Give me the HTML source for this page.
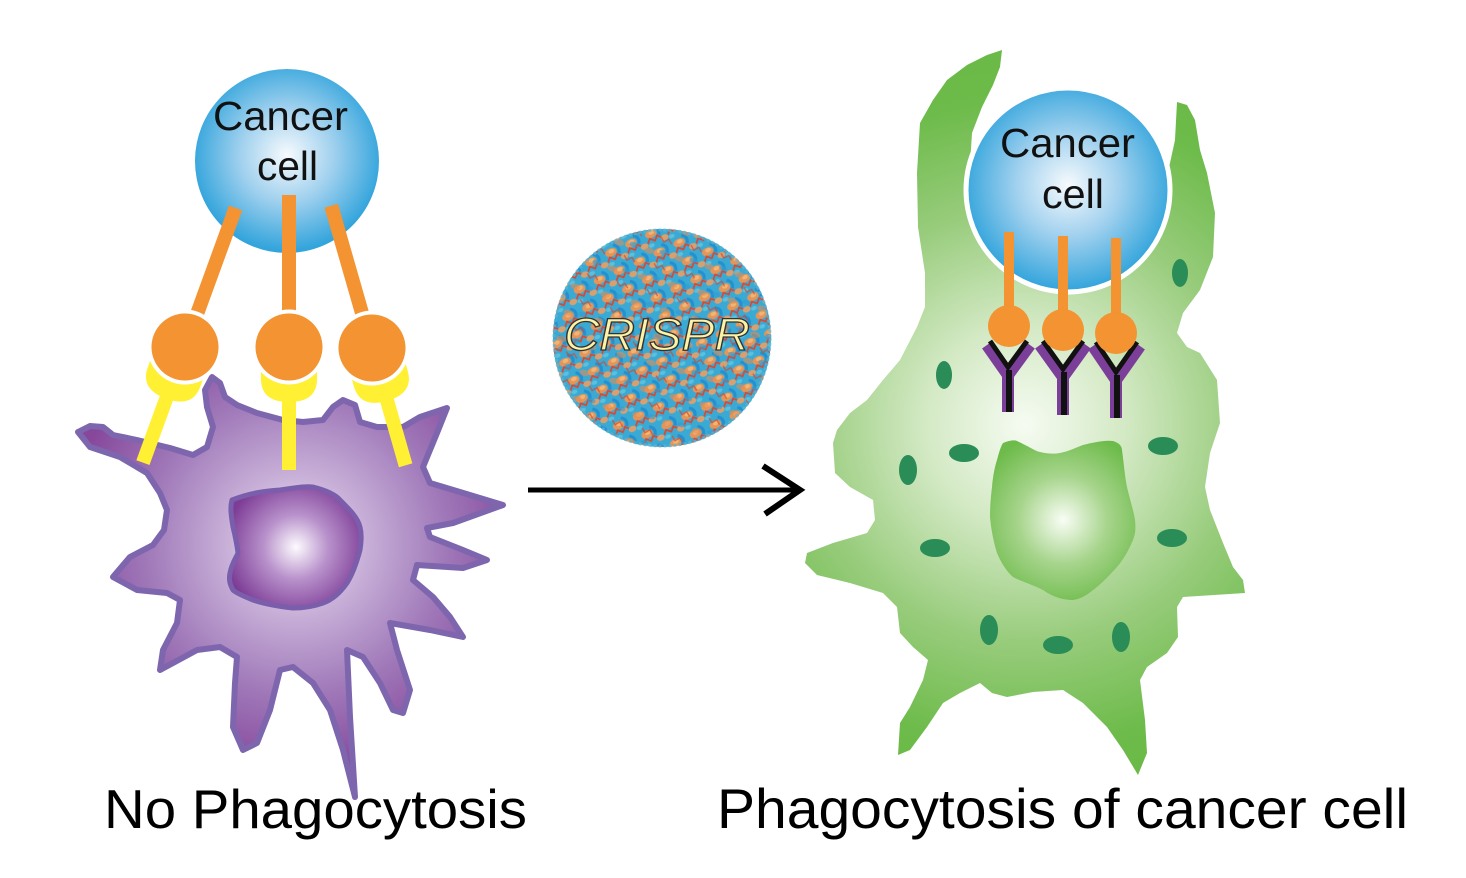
<!DOCTYPE html>
<html>
<head>
<meta charset="utf-8">
<style>
html,body{margin:0;padding:0;background:#fff;}
svg{display:block;}
</style>
</head>
<body>
<svg width="1466" height="878" viewBox="0 0 1466 878" xmlns="http://www.w3.org/2000/svg">
<defs>
  <radialGradient id="cancerL" gradientUnits="userSpaceOnUse" cx="287" cy="155" r="95">
    <stop offset="0" stop-color="#f6fafd"/>
    <stop offset="0.5" stop-color="#9fd0ee"/>
    <stop offset="1" stop-color="#34a5dc"/>
  </radialGradient>
  <radialGradient id="cancerR" gradientUnits="userSpaceOnUse" cx="1068" cy="185" r="105">
    <stop offset="0" stop-color="#f6fafd"/>
    <stop offset="0.5" stop-color="#9fd0ee"/>
    <stop offset="1" stop-color="#34a5dc"/>
  </radialGradient>
  <radialGradient id="purpBody" gradientUnits="userSpaceOnUse" cx="296" cy="545" r="230">
    <stop offset="0" stop-color="#f5f0f8"/>
    <stop offset="0.3" stop-color="#c8b0d8"/>
    <stop offset="0.65" stop-color="#a079b9"/>
    <stop offset="1" stop-color="#87489c"/>
  </radialGradient>
  <radialGradient id="purpNuc" gradientUnits="userSpaceOnUse" cx="296" cy="547" r="72">
    <stop offset="0" stop-color="#fdfbfe"/>
    <stop offset="0.45" stop-color="#b891cb"/>
    <stop offset="1" stop-color="#7d3c96"/>
  </radialGradient>
  <radialGradient id="greenBody" gradientUnits="userSpaceOnUse" cx="1025" cy="425" r="360">
    <stop offset="0" stop-color="#f6fbf2"/>
    <stop offset="0.28" stop-color="#d3e9c4"/>
    <stop offset="0.6" stop-color="#98cc7c"/>
    <stop offset="0.9" stop-color="#6dbb4a"/>
    <stop offset="1" stop-color="#6bba47"/>
  </radialGradient>
  <radialGradient id="greenNuc" gradientUnits="userSpaceOnUse" cx="1063" cy="520" r="90">
    <stop offset="0" stop-color="#f9fdf5"/>
    <stop offset="0.5" stop-color="#a6d48b"/>
    <stop offset="1" stop-color="#6dbb4a"/>
  </radialGradient>
  <pattern id="crispr" patternUnits="userSpaceOnUse" width="22" height="20" patternTransform="rotate(-25)">
    <rect width="22" height="20" fill="#3aaad4"/>
    <ellipse cx="7" cy="7" rx="6" ry="4" fill="#e3955a"/>
    <ellipse cx="8" cy="6" rx="3" ry="2" fill="#f0b574"/>
    <path d="M12,1 q6,4 2,10" fill="none" stroke="#2490cf" stroke-width="3"/>
    <polyline points="0,15 4,11 8,15 12,11 16,15" fill="none" stroke="#e0452a" stroke-width="1.6"/>
    <ellipse cx="18" cy="16" rx="4" ry="3" fill="#d8a070"/>
    <ellipse cx="3" cy="18" rx="3" ry="2" fill="#5cc0dc"/>
  </pattern>
  <pattern id="crispr2" patternUnits="userSpaceOnUse" width="31" height="27" patternTransform="rotate(15)">
    <ellipse cx="10" cy="20" rx="5" ry="3" fill="#e88a4e" opacity="0.55"/>
    <polyline points="18,4 22,8 26,4 30,8" fill="none" stroke="#d9442a" stroke-width="1.4" opacity="0.7"/>
    <ellipse cx="24" cy="18" rx="4" ry="2.5" fill="#2f9bd3" opacity="0.6"/>
  </pattern>
</defs>

<!-- ===== LEFT: purple macrophage ===== -->
<path fill="url(#purpBody)" stroke="#7e66ae" stroke-width="6" stroke-linejoin="round" d="
M78,432 L90,426 L103,427 L113,435 L137,440 L170,448 L193,455 L207,447 L213,427 L207,407 L205,390 L212,377 L220,383 L225,397 L237,405 L257,413 L283,420 L303,422 L323,420 L333,407 L343,400 L355,405 L360,422 L377,427 L403,427 L420,417 L447,408 L437,433 L423,467 L430,483 L460,492 L503,505 L453,523 L427,528 L430,537 L463,550 L487,560 L463,568 L417,565 L413,580 L433,597 L450,617 L463,637 L430,630 L390,623 L397,650 L410,690 L403,713 L393,710 L380,683 L363,657 L347,650 L350,717 L355,797 L343,750 L330,710 L313,683 L293,667 L280,670 L270,710 L257,743 L243,750 L233,727 L235,683 L237,657 L220,647 L197,650 L173,663 L160,670 L163,650 L177,623 L180,600 L167,593 L137,590 L113,577 L130,557 L153,545 L164,530 L167,510 L160,493 L147,473 L120,457 L90,447 Z"/>
<path fill="url(#purpNuc)" stroke="#7a5eab" stroke-width="5" stroke-linejoin="round" d="
M232,500 C250,493 265,491 280,490 C295,488 305,486 313,487 C325,490 335,494 340,500 C350,510 358,518 360,527 C362,535 361,543 360,550 C356,565 352,575 347,583 C340,593 332,600 323,603 C312,607 300,608 293,608 C275,606 262,603 253,600 C243,596 236,593 233,590 C229,583 229,578 230,573 C232,563 236,558 238,553 C237,545 235,535 233,527 C231,515 230,507 232,500 Z"/>

<!-- left cancer cell -->
<circle cx="287" cy="161" r="92" fill="url(#cancerL)"/>
<text x="213" y="130" font-family="Liberation Sans, Arial, sans-serif" font-size="41" fill="#111" textLength="135" lengthAdjust="spacingAndGlyphs">Cancer</text>
<text x="257" y="180" font-family="Liberation Sans, Arial, sans-serif" font-size="41" fill="#111" textLength="61" lengthAdjust="spacingAndGlyphs">cell</text>

<!-- receptor groups -->
<g transform="rotate(20 185 347)">
  <rect x="178" y="199" width="14" height="148" fill="#f39331"/>
  <rect x="178" y="380" width="14" height="90" fill="#fff033"/>
  <path d="M-28,20 L-28,32 Q-28,55 0,55 Q28,55 28,32 L28,20 Z" transform="translate(185 347)" fill="#fff033"/>
  <circle cx="185" cy="347" r="37.5" fill="#fff"/>
  <circle cx="185" cy="347" r="33.5" fill="#f39331"/>
</g>
<g>
  <rect x="282" y="195" width="14" height="152" fill="#f39331"/>
  <rect x="282" y="380" width="14" height="90" fill="#fff033"/>
  <path d="M-28,20 L-28,32 Q-28,55 0,55 Q28,55 28,32 L28,20 Z" transform="translate(289 347)" fill="#fff033"/>
  <circle cx="289" cy="347" r="37.5" fill="#fff"/>
  <circle cx="289" cy="347" r="33.5" fill="#f39331"/>
</g>
<g transform="rotate(-16 372 348)">
  <rect x="365" y="200" width="14" height="148" fill="#f39331"/>
  <rect x="365" y="380" width="14" height="90" fill="#fff033"/>
  <path d="M-28,20 L-28,32 Q-28,55 0,55 Q28,55 28,32 L28,20 Z" transform="translate(372 348)" fill="#fff033"/>
  <circle cx="372" cy="348" r="37.5" fill="#fff"/>
  <circle cx="372" cy="348" r="33.5" fill="#f39331"/>
</g>

<!-- ===== CRISPR particle ===== -->
<circle cx="662" cy="338" r="109" fill="url(#crispr)"/>
<circle cx="662" cy="338" r="109" fill="url(#crispr2)"/>
<circle cx="662" cy="338" r="108" fill="none" stroke="#5fb3cf" stroke-width="3" stroke-dasharray="3 2" opacity="0.7"/>
<text x="564" y="350" font-family="Liberation Sans, Arial, sans-serif" font-size="45" font-style="italic" fill="#fdf3a6" stroke="#333" stroke-width="1.3" textLength="186" lengthAdjust="spacingAndGlyphs">CRISPR</text>

<!-- arrow -->
<line x1="528" y1="490" x2="799" y2="490" stroke="#000" stroke-width="5"/>
<polyline points="763,466 800,490 765,514" fill="none" stroke="#000" stroke-width="6" stroke-linejoin="miter"/>

<!-- ===== RIGHT: green macrophage ===== -->
<path fill="url(#greenBody)" stroke-linejoin="round" d="
M1002,50 L1000,67 L993,85 L982,107 L972,133 L970,165 L1068,190 L1168,172 L1175,140 L1177,102 L1187,105 L1195,120 L1200,150 L1207,173 L1215,213 L1213,257 L1200,290 L1183,313 L1177,333 L1187,347 L1200,353 L1217,380 L1220,423 L1210,453 L1205,487 L1210,510 L1223,543 L1233,567 L1243,580 L1245,593 L1183,597 L1177,607 L1178,637 L1167,653 L1147,667 L1140,680 L1145,720 L1147,753 L1138,775 L1123,750 L1107,727 L1083,703 L1063,690 L1033,692 L1007,697 L992,693 L980,683 L960,693 L943,703 L927,727 L910,750 L898,755 L900,723 L910,707 L923,680 L928,660 L913,647 L900,633 L897,607 L883,593 L850,583 L817,575 L805,563 L807,553 L833,543 L867,533 L875,520 L873,500 L850,487 L835,473 L833,443 L837,430 L850,413 L867,400 L883,380 L900,360 L917,327 L925,307 L925,273 L918,227 L917,173 L920,123 L933,100 L947,80 L967,65 L987,55 Z"/>

<path fill="url(#greenNuc)" d="
M1003,443 C1010,440 1015,440 1017,441 C1028,446 1035,451 1040,452 C1048,454 1055,454 1060,453 C1070,451 1077,447 1083,445 C1095,442 1105,440 1113,441 C1120,443 1122,447 1122,450 C1124,465 1125,477 1127,487 C1130,500 1134,512 1135,520 C1136,530 1135,535 1133,540 C1128,552 1123,560 1117,567 C1108,577 1100,585 1093,590 C1086,596 1080,599 1073,600 C1060,600 1050,595 1043,590 C1033,585 1020,581 1013,577 C1005,570 1000,560 997,553 C993,540 991,528 990,517 C990,505 991,495 992,487 C993,475 995,466 997,460 C999,452 1001,446 1003,443 Z"/>

<!-- spots -->
<g fill="#2a8c57">
  <ellipse cx="1180" cy="273" rx="8" ry="14"/>
  <ellipse cx="944" cy="375" rx="8" ry="14"/>
  <ellipse cx="908" cy="470" rx="9" ry="15"/>
  <ellipse cx="964" cy="453" rx="15" ry="9"/>
  <ellipse cx="935" cy="548" rx="15" ry="9"/>
  <ellipse cx="1163" cy="446" rx="15" ry="9"/>
  <ellipse cx="1172" cy="538" rx="15" ry="9"/>
  <ellipse cx="989" cy="630" rx="9" ry="15"/>
  <ellipse cx="1058" cy="645" rx="15" ry="9"/>
  <ellipse cx="1121" cy="637" rx="9" ry="15"/>
</g>

<!-- right cancer cell -->
<circle cx="1068" cy="190" r="102" fill="url(#cancerR)" stroke="#fff" stroke-width="5"/>
<text x="1000" y="157" font-family="Liberation Sans, Arial, sans-serif" font-size="41" fill="#111" textLength="135" lengthAdjust="spacingAndGlyphs">Cancer</text>
<text x="1042" y="208" font-family="Liberation Sans, Arial, sans-serif" font-size="41" fill="#111" textLength="62" lengthAdjust="spacingAndGlyphs">cell</text>

<!-- orange sticks -->
<rect x="1004" y="232" width="10" height="94" fill="#f39331"/>
<rect x="1058" y="236" width="10" height="94" fill="#f39331"/>
<rect x="1111" y="238" width="10" height="95" fill="#f39331"/>

<!-- antibodies -->
<g fill="none" stroke-linecap="butt" stroke-linejoin="miter">
  <polyline points="987,345 1008,375 1030,345" stroke="#7b3f99" stroke-width="12"/>
  <line x1="1008" y1="372" x2="1008" y2="412" stroke="#7b3f99" stroke-width="12"/>
  <polyline points="990,341 1008,367 1027,341" stroke="#111" stroke-width="5"/>
  <line x1="1009" y1="370" x2="1009" y2="412" stroke="#111" stroke-width="6"/>

  <polyline points="1040,345 1063,377 1086,345" stroke="#7b3f99" stroke-width="12"/>
  <line x1="1063" y1="374" x2="1063" y2="415" stroke="#7b3f99" stroke-width="12"/>
  <polyline points="1043,341 1063,369 1083,341" stroke="#111" stroke-width="5"/>
  <line x1="1064" y1="372" x2="1064" y2="415" stroke="#111" stroke-width="6"/>

  <polyline points="1093,346 1116,380 1140,346" stroke="#7b3f99" stroke-width="12"/>
  <line x1="1116" y1="377" x2="1116" y2="418" stroke="#7b3f99" stroke-width="12"/>
  <polyline points="1096,342 1116,372 1137,342" stroke="#111" stroke-width="5"/>
  <line x1="1117" y1="375" x2="1117" y2="418" stroke="#111" stroke-width="6"/>
</g>

<!-- orange balls -->
<circle cx="1009" cy="326" r="21" fill="#f39331"/>
<circle cx="1063" cy="330" r="21" fill="#f39331"/>
<circle cx="1116" cy="333" r="21" fill="#f39331"/>

<!-- labels -->
<text x="104" y="828" font-family="Liberation Sans, Arial, sans-serif" font-size="55" fill="#000" textLength="423" lengthAdjust="spacingAndGlyphs">No Phagocytosis</text>
<text x="717" y="828" font-family="Liberation Sans, Arial, sans-serif" font-size="56" fill="#000" textLength="691" lengthAdjust="spacingAndGlyphs">Phagocytosis of cancer cell</text>
</svg>
</body>
</html>
